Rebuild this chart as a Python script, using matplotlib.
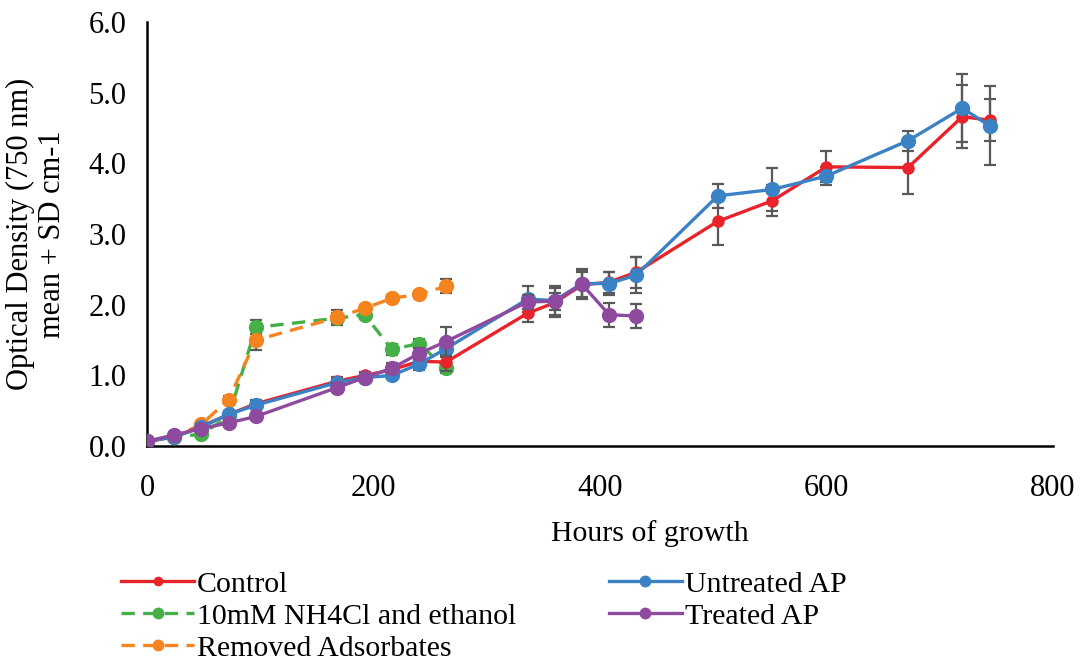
import matplotlib
matplotlib.use("Agg")
import matplotlib.pyplot as plt

# hours of growth
hours_long = [0, 24, 48, 72, 96, 168, 192, 216, 240, 264, 336, 360, 384,
              408, 432, 504, 552, 600, 672, 720, 744]
hours_short = [0, 24, 48, 72, 96, 168, 192, 216, 240, 264]
hours_treated = [0, 24, 48, 72, 96, 168, 192, 216, 240, 264, 336, 360, 384,
                 408, 432]

control = [0.07, 0.13, 0.28, 0.45, 0.60, 0.92, 1.00, 1.08, 1.20, 1.19, 1.88,
           2.03, 2.28, 2.32, 2.46, 3.18, 3.47, 3.95, 3.94, 4.66, 4.61]
control_sd = [0.02, 0.03, 0.04, 0.05, 0.06, 0.06, 0.05, 0.10, 0.08, 0.12,
              0.12, 0.20, 0.20, 0.15, 0.22, 0.33, 0.22, 0.22, 0.37, 0.45, 0.30]

untreated = [0.07, 0.13, 0.27, 0.45, 0.58, 0.90, 0.97, 1.00, 1.16, 1.38,
             2.08, 2.06, 2.30, 2.30, 2.42, 3.54, 3.63, 3.82, 4.32, 4.78, 4.53]
untreated_sd = [0.02, 0.03, 0.04, 0.05, 0.06, 0.06, 0.05, 0.05, 0.08, 0.12,
                0.18, 0.20, 0.20, 0.16, 0.25, 0.17, 0.30, 0.13, 0.14, 0.48, 0.56]

nh4cl = [0.07, 0.13, 0.17, 0.42, 1.68, 1.81, 1.86, 1.37, 1.45, 1.10]
nh4cl_sd = [0.02, 0.03, 0.04, 0.05, 0.10, 0.08, 0.06, 0.08, 0.06, 0.06]

removed = [0.07, 0.13, 0.31, 0.66, 1.50, 1.82, 1.95, 2.09, 2.15, 2.26]
removed_sd = [0.02, 0.03, 0.04, 0.05, 0.14, 0.10, 0.05, 0.05, 0.05, 0.10]

treated = [0.07, 0.16, 0.25, 0.33, 0.42, 0.83, 0.97, 1.10, 1.31, 1.48, 2.04,
           2.05, 2.29, 1.86, 1.84]
treated_sd = [0.02, 0.03, 0.04, 0.05, 0.05, 0.06, 0.05, 0.06, 0.08, 0.20,
              0.10, 0.12, 0.18, 0.17, 0.17]

plt.rcParams['font.family'] = ['Liberation Serif', 'DejaVu Serif']

RED = "#E8232A"
BLUE = "#3B82C4"
GREEN = "#45B048"
ORANGE = "#F5841F"
PURPLE = "#8E4A9E"
ERR = "#595959"
FS = 21.5

fig = plt.figure(figsize=(10.9, 6.63), dpi=100)
ax = fig.add_axes([0.135, 0.327, 0.831, 0.64])

err_kw = dict(ecolor=ERR, elinewidth=1.6, capsize=4, capthick=1.6)

series = [
    (hours_short, nh4cl, nh4cl_sd, GREEN, (0, (4, 2.5)), 10,
     "10mM NH4Cl and ethanol", 2),
    (hours_short, removed, removed_sd, ORANGE, (0, (4, 2.5)), 10,
     "Removed Adsorbates", 2),
    (hours_long, control, control_sd, RED, '-', 8, "Control", 3),
    (hours_long, untreated, untreated_sd, BLUE, '-', 10, "Untreated AP", 3),
    (hours_treated, treated, treated_sd, PURPLE, '-', 10, "Treated AP", 4),
]
lines = {}
for x, y, sd, col, ls, ms, lab, z in series:
    cont = ax.errorbar(x, y, yerr=sd, color=col, lw=2.4, ls=ls, marker='o',
                       ms=ms, zorder=z, **err_kw)
    lines[lab] = cont.lines[0]

ax.set_xlim(0, 800)
ax.set_ylim(0, 6)
ax.set_xticks([0, 200, 400, 600, 800])
ax.set_yticks([0, 1, 2, 3, 4, 5, 6])
ax.set_yticklabels([f"{v:.1f}" for v in range(7)])
ax.tick_params(axis='y', length=0, labelsize=22, pad=15)
ax.tick_params(axis='x', length=0, labelsize=22, pad=20)
ax.spines['top'].set_visible(False)
ax.spines['right'].set_visible(False)
ax.spines['left'].set_linewidth(1.8)
ax.spines['bottom'].set_linewidth(1.8)
ax.set_xlabel("Hours of growth", fontsize=FS)
ax.xaxis.set_label_coords(0.555, -0.174)
ax.set_ylabel("Optical Density (750 nm)\nmean + SD cm-1", fontsize=22,
              linespacing=1.15)
ax.yaxis.set_label_coords(-0.088, 0.5)

# legend: Control, NH4Cl, Removed in first column; Untreated, Treated in second
order = ["Control", "10mM NH4Cl and ethanol", "Removed Adsorbates",
         "Untreated AP", "Treated AP"]
fig.legend([lines[k] for k in order], order, ncol=2, frameon=False,
           fontsize=FS, loc='upper left', bbox_to_anchor=(0.1, 0.157),
           handlelength=2.45, handletextpad=0.1, labelspacing=0.17,
           columnspacing=3.1, markerscale=0.75, borderaxespad=0)

fig.savefig("out.png", dpi=100)
